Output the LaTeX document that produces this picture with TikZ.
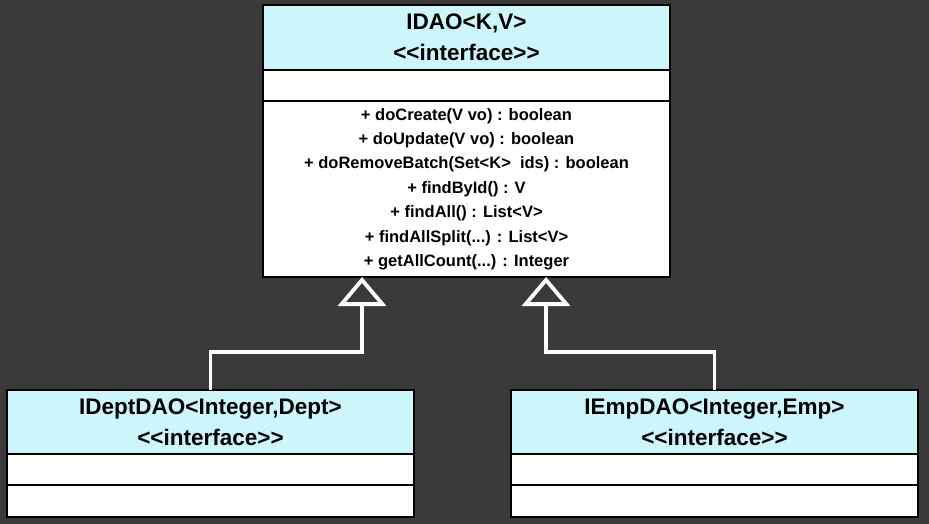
\documentclass[tikz,border=0pt]{standalone}
\usepackage{fontspec}
\setmainfont{Liberation Sans}
\usetikzlibrary{positioning,arrows.meta}

\definecolor{slidebg}{RGB}{58,58,58}
\definecolor{umlcyan}{RGB}{204,246,251}

\tikzset{
    classpart/.style={draw=black, line width=1.5pt, outer sep=0pt, inner sep=0pt,
        minimum width=407pt, align=center, font=\bfseries},
    classtitle/.style={classpart, fill=umlcyan, minimum height=65pt,
        font=\bfseries\fontsize{22.5}{31}\selectfont},
    classattr/.style={classpart, fill=white, minimum height=31pt},
    classops/.style={classpart, fill=white, font=\bfseries\fontsize{16.5}{24.4}\selectfont},
    realize/.style={draw=white, line width=3.8pt,
        -{Triangle[open, length=29pt, width=48pt]}}
}

% stereotype text, kept apart so the font does not turn << into a guillemet
\newcommand{\stereo}{<\kern0pt<interface>\kern0pt>}

\begin{document}
\begin{tikzpicture}[x=1pt, y=-1pt]

    % Background of the slide
    \fill[slidebg] (0,0) rectangle (929,524);
    \useasboundingbox (0,0) rectangle (929,524);

    % The generic interface IDAO at the top
    \node[classtitle] (idao-title) at (466.5,37.5) {IDAO<K,V>\\\stereo};
    \node[classattr, below=0pt of idao-title] (idao-attr) {};
    \node[classops, minimum height=176pt, below=0pt of idao-attr] (idao-ops)
        {+ doCreate(V vo) : boolean\\
         + doUpdate(V vo) : boolean\\
         + doRemoveBatch(Set<K>~~ids) : boolean\\
         + findById() : V\\
         + findAll() : List<V>\\
         + findAllSplit(...) : List<V>\\
         + getAllCount(...) : Integer};

    % The two sub-interfaces at the bottom
    \node[classtitle, minimum height=64pt] (dept-title) at (210.5,422)
        {IDeptDAO<Integer,Dept>\\\stereo};
    \node[classattr, below=0pt of dept-title] (dept-attr) {};
    \node[classattr, minimum height=32pt, below=0pt of dept-attr] (dept-ops) {};

    \node[classtitle, minimum height=64pt] (emp-title) at (714.5,422)
        {IEmpDAO<Integer,Emp>\\\stereo};
    \node[classattr, below=0pt of emp-title] (emp-attr) {};
    \node[classattr, minimum height=32pt, below=0pt of emp-attr] (emp-ops) {};

    % Points on the bottom edge of IDAO where the arrows end
    \coordinate (idao-left) at ([xshift=99pt]idao-ops.south west);
    \coordinate (idao-right) at ([xshift=-124pt]idao-ops.south east);

    % Realization arrows from the sub-interfaces up to IDAO
    \draw[realize] (dept-title.north) |- ([yshift=-75pt]idao-left) -- (idao-left);
    \draw[realize] (emp-title.north) |- ([yshift=-75pt]idao-right) -- (idao-right);

\end{tikzpicture}
\end{document}
